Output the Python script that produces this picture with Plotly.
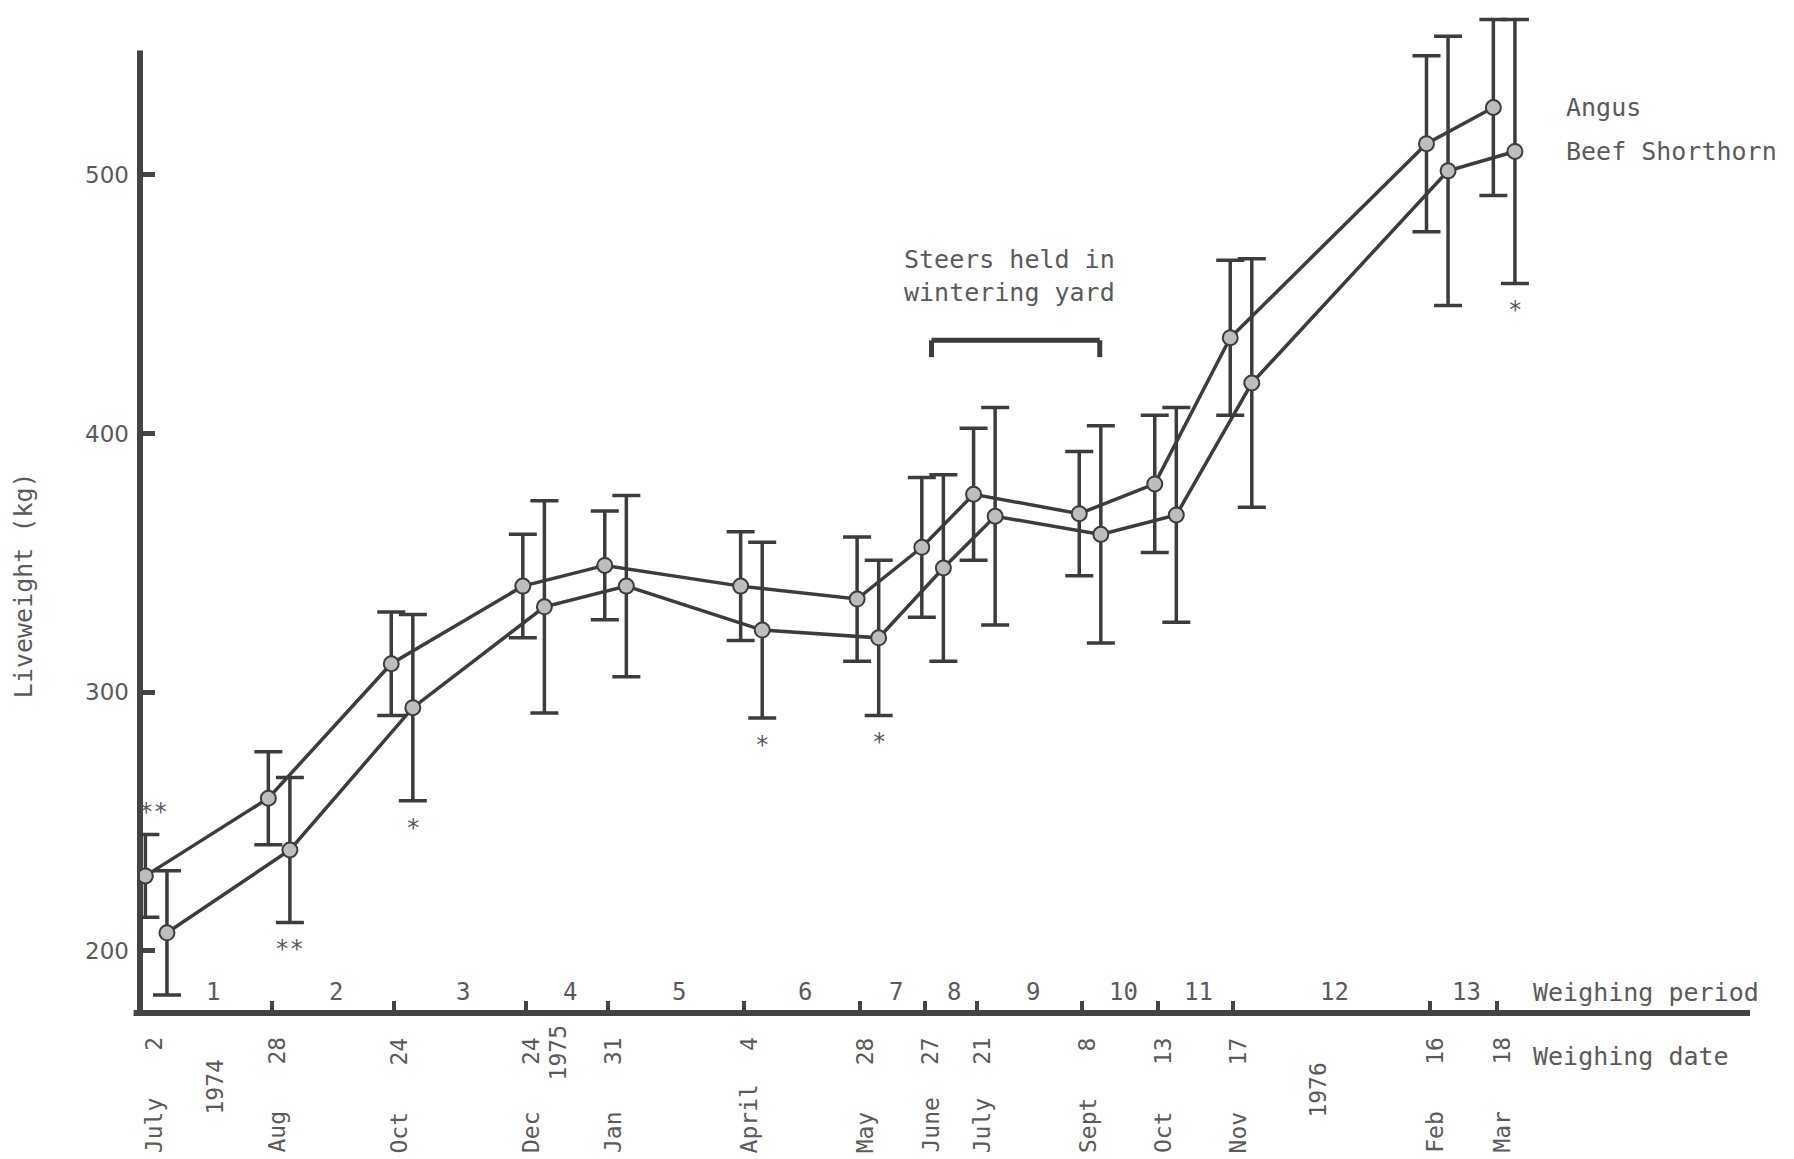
import pandas as pd
import plotly.graph_objects as go

# ---- data -----------------------------------------------------------------
# Weighing dates and the text printed under each tick
weigh_dates = ["1974-07-02", "1974-08-28", "1974-10-24", "1974-12-24", "1975-01-31",
               "1975-04-04", "1975-05-28", "1975-06-27", "1975-07-21", "1975-09-08",
               "1975-10-13", "1975-11-17", "1976-02-16", "1976-03-18"]
date_day_labels = ["2", "28", "24", "24", "31", "4", "28", "27", "21", "8", "13", "17", "16", "18"]
date_month_labels = ["July", "Aug", "Oct", "Dec", "Jan", "April", "May", "June", "July",
                     "Sept", "Oct", "Nov", "Feb", "Mar"]
period_labels = ["1", "2", "3", "4", "5", "6", "7", "8", "9", "10", "11", "12", "13"]
year_labels = ["1974", "1975", "1976"]

# Mean liveweight (kg) with the spread drawn as error bars
angus_mean = [229, 259, 311, 341, 349, 341, 336, 356, 376.5, 369, 380.5, 437, 512, 526]
angus_sd = [16, 18, 20, 20, 21, 21, 24, 27, 25.5, 24, 26.5, 30, 34, 34]
shorthorn_mean = [207, 239, 294, 333, 341, 324, 321, 348, 368, 361, 368.5, 419.5, 501.5, 509]
shorthorn_sd = [24, 28, 36, 41, 35, 34, 30, 36, 42, 42, 41.5, 48, 52, 51]

# Significance of the breed difference at each weighing
significance = ["**", "**", "*", "", "", "*", "*", "", "", "", "", "", "", "*"]

y_ticks = [200, 300, 400, 500]

# ---- layout constants -----------------------------------------------------
W, H = 1794, 1159
M_L, M_R, M_T, M_B = 140, 44, 4, 146
Y_RANGE = [176, 566]
Y_AXIS_TOP = 548

INK = "#3c3c3c"
AXIS = "#444444"
TEXT = "#5a5a5a"
MONO = "DejaVu Sans Mono, monospace"

base = pd.Timestamp(weigh_dates[0])
dates = pd.to_datetime(weigh_dates)
x_range = [base - pd.Timedelta(days=4.0), base + pd.Timedelta(days=742.5)]

# the two breeds are drawn side by side around each weighing date
angus_x = dates + pd.Timedelta(days=-1.5)
shorthorn_x = dates + pd.Timedelta(days=8.5)

# positions for the period numbers: halfway between consecutive weighings
period_x = [dates[i] + (dates[i + 1] - dates[i]) / 2 for i in range(len(dates) - 1)]
year_label_x = [pd.Timestamp("1974-08-02"), pd.Timestamp("1975-01-08"), pd.Timestamp("1975-12-26")]
year_label_drop = [74, 40, 77]

marker_style = dict(size=15, color="#bdbdbd", line=dict(color=INK, width=2))

fig = go.Figure()
for name, xs, ys, err in [("Angus", angus_x, angus_mean, angus_sd),
                          ("Beef Shorthorn", shorthorn_x, shorthorn_mean, shorthorn_sd)]:
    fig.add_trace(go.Scatter(
        x=xs, y=ys, name=name, mode="lines+markers",
        line=dict(color=INK, width=3.5),
        marker=marker_style,
        error_y=dict(type="data", array=err, visible=True, color=INK,
                     thickness=3.5, width=14),
        showlegend=False,
    ))

annotations = []

# weighing-date labels: day number near the axis, month name below
for d, day, mon in zip(dates, date_day_labels, date_month_labels):
    annotations.append(dict(x=d, xref="x", y=0, yref="paper", text=day, textangle=-90,
                            showarrow=False, yanchor="top", xanchor="center",
                            yshift=-22, xshift=5, font=dict(family=MONO, size=23, color=TEXT)))
    annotations.append(dict(x=d, xref="x", y=0, yref="paper", text=mon, textangle=-90,
                            showarrow=False, yanchor="bottom", xanchor="center",
                            yshift=-142, xshift=5, font=dict(family=MONO, size=23, color=TEXT)))

for yx, yl, drop in zip(year_label_x, year_labels, year_label_drop):
    annotations.append(dict(x=yx, xref="x", y=0, yref="paper", text=yl, textangle=-90,
                            showarrow=False, yanchor="middle", xanchor="center",
                            yshift=-drop, font=dict(family=MONO, size=23, color=TEXT)))

for px, pl in zip(period_x, period_labels):
    annotations.append(dict(x=px, xref="x", y=0, yref="paper", text=pl, showarrow=False,
                            yanchor="middle", xanchor="center", yshift=21, xshift=3,
                            font=dict(family=MONO, size=24, color=TEXT)))

annotations.append(dict(x=0.864, xref="paper", y=0, yref="paper", text="Weighing period",
                        showarrow=False, xanchor="left", yanchor="middle", yshift=21,
                        font=dict(family=MONO, size=25, color=TEXT)))
annotations.append(dict(x=0.864, xref="paper", y=0, yref="paper", text="Weighing date",
                        showarrow=False, xanchor="left", yanchor="middle", yshift=-43,
                        font=dict(family=MONO, size=25, color=TEXT)))

# series names beside the final weighing
annotations.append(dict(x=0.8845, xref="paper", y=angus_mean[-1], yref="y", text="Angus",
                        showarrow=False, xanchor="left", yanchor="middle",
                        font=dict(family=MONO, size=25, color=TEXT)))
annotations.append(dict(x=0.8845, xref="paper", y=shorthorn_mean[-1], yref="y",
                        text="Beef Shorthorn", showarrow=False, xanchor="left", yanchor="middle",
                        font=dict(family=MONO, size=25, color=TEXT)))

# y-axis title
annotations.append(dict(x=-0.0727, xref="paper", y=0.424, yref="paper",
                        text="Liveweight (kg)", textangle=-90, showarrow=False,
                        xanchor="center", yanchor="middle",
                        font=dict(family=MONO, size=25, color=TEXT)))

# wintering-yard note and bracket
yard_start = pd.Timestamp("1975-06-30")
yard_end = pd.Timestamp("1975-09-16")
annotations.append(dict(x=yard_start + (yard_end - yard_start) / 2 - pd.Timedelta(days=3),
                        xref="x", y=461, yref="y",
                        text="Steers held in<br>wintering yard", showarrow=False,
                        xanchor="center", yanchor="middle", align="left",
                        font=dict(family=MONO, size=25, color=TEXT)))

# significance stars
for i, s in enumerate(significance):
    if not s:
        continue
    if i == 0:
        annotations.append(dict(x=angus_x[i], xref="x", y=angus_mean[i] + angus_sd[i], yref="y",
                                text=s, showarrow=False, xanchor="center", yanchor="middle",
                                yshift=22, xshift=8,
                                font=dict(family=MONO, size=24, color=TEXT)))
    else:
        annotations.append(dict(x=shorthorn_x[i], xref="x",
                                y=shorthorn_mean[i] - shorthorn_sd[i], yref="y",
                                text=s, showarrow=False, xanchor="center", yanchor="middle",
                                yshift=-27,
                                font=dict(family=MONO, size=24, color=TEXT)))

shapes = [
    # axis lines
    dict(type="line", xref="paper", yref="paper", x0=-0.004, x1=1, y0=0, y1=0,
         line=dict(color=AXIS, width=6), layer="below"),
    dict(type="line", xref="paper", yref="y", x0=0, x1=0, y0=Y_RANGE[0], y1=Y_AXIS_TOP,
         line=dict(color=AXIS, width=6), layer="below"),
    # bracket for the wintering-yard period
    dict(type="line", xref="x", yref="y", x0=yard_start, x1=yard_end, y0=436, y1=436,
         line=dict(color=INK, width=5)),
    dict(type="line", xref="x", yref="y", x0=yard_start, x1=yard_start, y0=436, y1=429.5,
         line=dict(color=INK, width=5)),
    dict(type="line", xref="x", yref="y", x0=yard_end, x1=yard_end, y0=436, y1=429.5,
         line=dict(color=INK, width=5)),
]

fig.update_layout(
    width=W, height=H,
    margin=dict(l=M_L, r=M_R, t=M_T, b=M_B, pad=0),
    paper_bgcolor="white", plot_bgcolor="white",
    showlegend=False,
    annotations=annotations,
    shapes=shapes,
    xaxis=dict(type="date", range=x_range, showgrid=False, zeroline=False, showline=False,
               tickmode="array", tickvals=list(dates[1:]), ticks="inside", ticklen=12,
               tickwidth=4, tickcolor=AXIS, showticklabels=False),
    yaxis=dict(range=Y_RANGE, showgrid=False, zeroline=False, showline=False,
               tickmode="array", tickvals=y_ticks, ticktext=[str(v) for v in y_ticks],
               ticks="inside", ticklen=15, tickwidth=5, tickcolor=AXIS,
               ticklabelstandoff=10,
               tickfont=dict(family="DejaVu Sans, sans-serif", size=23, color=TEXT)),
)

fig.write_html("out.html")
